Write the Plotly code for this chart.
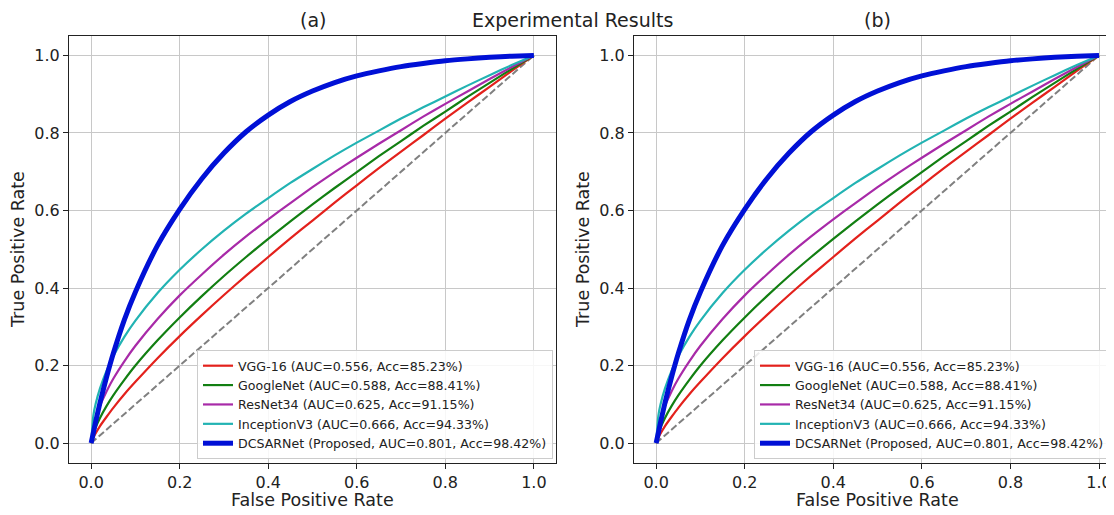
import plotly.graph_objects as go

# ---- data ----
fpr = [0, 0.005, 0.01, 0.02, 0.035, 0.05, 0.075, 0.1, 0.15, 0.2, 0.25, 0.3,
       0.35, 0.4, 0.45, 0.5, 0.55, 0.6, 0.65, 0.7, 0.75, 0.8, 0.85, 0.9, 0.95, 1.0]
tpr_vgg = [0, 0.014, 0.025, 0.044, 0.068, 0.091, 0.126, 0.158, 0.219, 0.276,
           0.330, 0.382, 0.432, 0.480, 0.528, 0.574, 0.620, 0.665, 0.709, 0.752,
           0.794, 0.837, 0.878, 0.919, 0.960, 1.0]
tpr_google = [0, 0.025, 0.040, 0.065, 0.096, 0.123, 0.163, 0.200, 0.265, 0.324,
              0.379, 0.431, 0.480, 0.527, 0.572, 0.616, 0.658, 0.699, 0.740, 0.779,
              0.818, 0.855, 0.893, 0.929, 0.965, 1.0]
tpr_resnet = [0, 0.042, 0.063, 0.096, 0.134, 0.166, 0.211, 0.251, 0.320, 0.381,
              0.435, 0.486, 0.533, 0.577, 0.619, 0.660, 0.699, 0.736, 0.772, 0.807,
              0.842, 0.875, 0.907, 0.939, 0.970, 1.0]
tpr_incep = [0, 0.071, 0.100, 0.141, 0.187, 0.224, 0.274, 0.316, 0.387, 0.447,
             0.500, 0.548, 0.592, 0.632, 0.671, 0.707, 0.742, 0.775, 0.806, 0.837,
             0.866, 0.894, 0.922, 0.949, 0.975, 1.0]
tpr_dcsar = [0, 0.027, 0.054, 0.104, 0.171, 0.231, 0.318, 0.390, 0.510, 0.603,
             0.682, 0.748, 0.803, 0.846, 0.881, 0.908, 0.930, 0.947, 0.960, 0.971,
             0.979, 0.986, 0.991, 0.995, 0.998, 1.0]
chance = [0, 1]

names = [
    "VGG-16 (AUC=0.556, Acc=85.23%)",
    "GoogleNet (AUC=0.588, Acc=88.41%)",
    "ResNet34 (AUC=0.625, Acc=91.15%)",
    "InceptionV3 (AUC=0.666, Acc=94.33%)",
    "DCSARNet (Proposed, AUC=0.801, Acc=98.42%)",
]
series = [tpr_vgg, tpr_google, tpr_resnet, tpr_incep, tpr_dcsar]
colors = ["#e3211c", "#127f12", "#a82aa8", "#22b3b3", "#0010d6"]
widths = [2.2, 2.2, 2.2, 2.2, 5]
panel_titles = ["(a)", "(b)"]
tick_vals = [0.0, 0.2, 0.4, 0.6, 0.8, 1.0]
tick_text = ["0.0", "0.2", "0.4", "0.6", "0.8", "1.0"]

# page body has an 8px margin: figure coordinates = screen coordinates - 8
OFF = 8
W, H = 1114 - OFF, 515 - OFF
FONT = "DejaVu Sans"


def px(v):
    return (v - OFF) / W


def py(v):
    return 1 - (v - OFF) / H


fig = go.Figure()

for p in range(2):
    xa = "x" if p == 0 else "x2"
    ya = "y" if p == 0 else "y2"
    lg = "legend" if p == 0 else "legend2"
    fig.add_trace(go.Scatter(x=chance, y=chance, mode="lines", xaxis=xa, yaxis=ya,
                             line=dict(color="#808080", width=2, dash="7px,3px"),
                             showlegend=False, hoverinfo="skip"))
    for name, s, c, w in zip(names, series, colors, widths):
        fig.add_trace(go.Scatter(x=fpr, y=s, mode="lines", name=name, xaxis=xa, yaxis=ya,
                                 line=dict(color=c, width=w, shape="spline", smoothing=0.6),
                                 legend=lg))

# panel geometry (screen pixels)
x0_l, x1_l = 69, 556
x0_r, zero_r, unit_r = 634, 656, 443
y_top, y_bot = 36, 462.5

axis_common = dict(
    showline=True, linecolor="#222222", linewidth=1.2, mirror=True,
    showgrid=True, gridcolor="#c8c8c8", gridwidth=1,
    ticks="outside", ticklen=5, tickwidth=1.2, tickcolor="#222222",
    tickvals=tick_vals, ticktext=tick_text,
    tickfont=dict(family=FONT, size=16, color="#222222"),
    zeroline=False, automargin=False,
)

legend_common = dict(xanchor="right", yanchor="bottom",
                     bgcolor="rgba(255,255,255,0.85)", bordercolor="#cccccc", borderwidth=1,
                     font=dict(family=FONT, size=12.6, color="#222222"), tracegroupgap=0)

fig.update_layout(
    template="none",
    width=W, height=H,
    margin=dict(l=0, r=0, t=0, b=0),
    paper_bgcolor="white", plot_bgcolor="white",
    xaxis=dict(domain=[px(x0_l), px(x1_l)], range=[-0.05, 1.05], anchor="y", **axis_common),
    yaxis=dict(domain=[py(y_bot), py(y_top)], range=[-0.05, 1.05], anchor="x", **axis_common),
    xaxis2=dict(domain=[px(x0_r), 1.0], range=[-0.05, (1114 - zero_r) / unit_r], anchor="y2", **axis_common),
    yaxis2=dict(domain=[py(y_bot), py(y_top)], range=[-0.05, 1.05], anchor="x2", **axis_common),
    legend=dict(x=px(553), y=py(459), **legend_common),
    legend2=dict(x=px(1110), y=py(459), **legend_common),
    font=dict(family=FONT, color="#222222"),
)

annos = []
centers = [(x0_l + x1_l) / 2, 877.5]
for p in range(2):
    annos.append(dict(text=panel_titles[p], x=px(centers[p]), y=py(19.5), xref="paper", yref="paper",
                      showarrow=False, font=dict(family=FONT, size=19, color="#222222"),
                      xanchor="center", yanchor="middle"))
    annos.append(dict(text="False Positive Rate", x=px(centers[p]), y=py(500), xref="paper", yref="paper",
                      showarrow=False, font=dict(family=FONT, size=17.5, color="#222222"),
                      xanchor="center", yanchor="middle"))
for xc in (18, 583):
    annos.append(dict(text="True Positive Rate", x=px(xc), y=py(250), xref="paper", yref="paper",
                      showarrow=False, textangle=-90, font=dict(family=FONT, size=17.5, color="#222222"),
                      xanchor="center", yanchor="middle"))
annos.append(dict(text="Experimental Results", x=px(572), y=py(19.5), xref="paper", yref="paper",
                  showarrow=False, font=dict(family=FONT, size=19, color="#222222"),
                  xanchor="center", yanchor="middle"))
fig.update_layout(annotations=annos)

fig.write_html("out.html")
